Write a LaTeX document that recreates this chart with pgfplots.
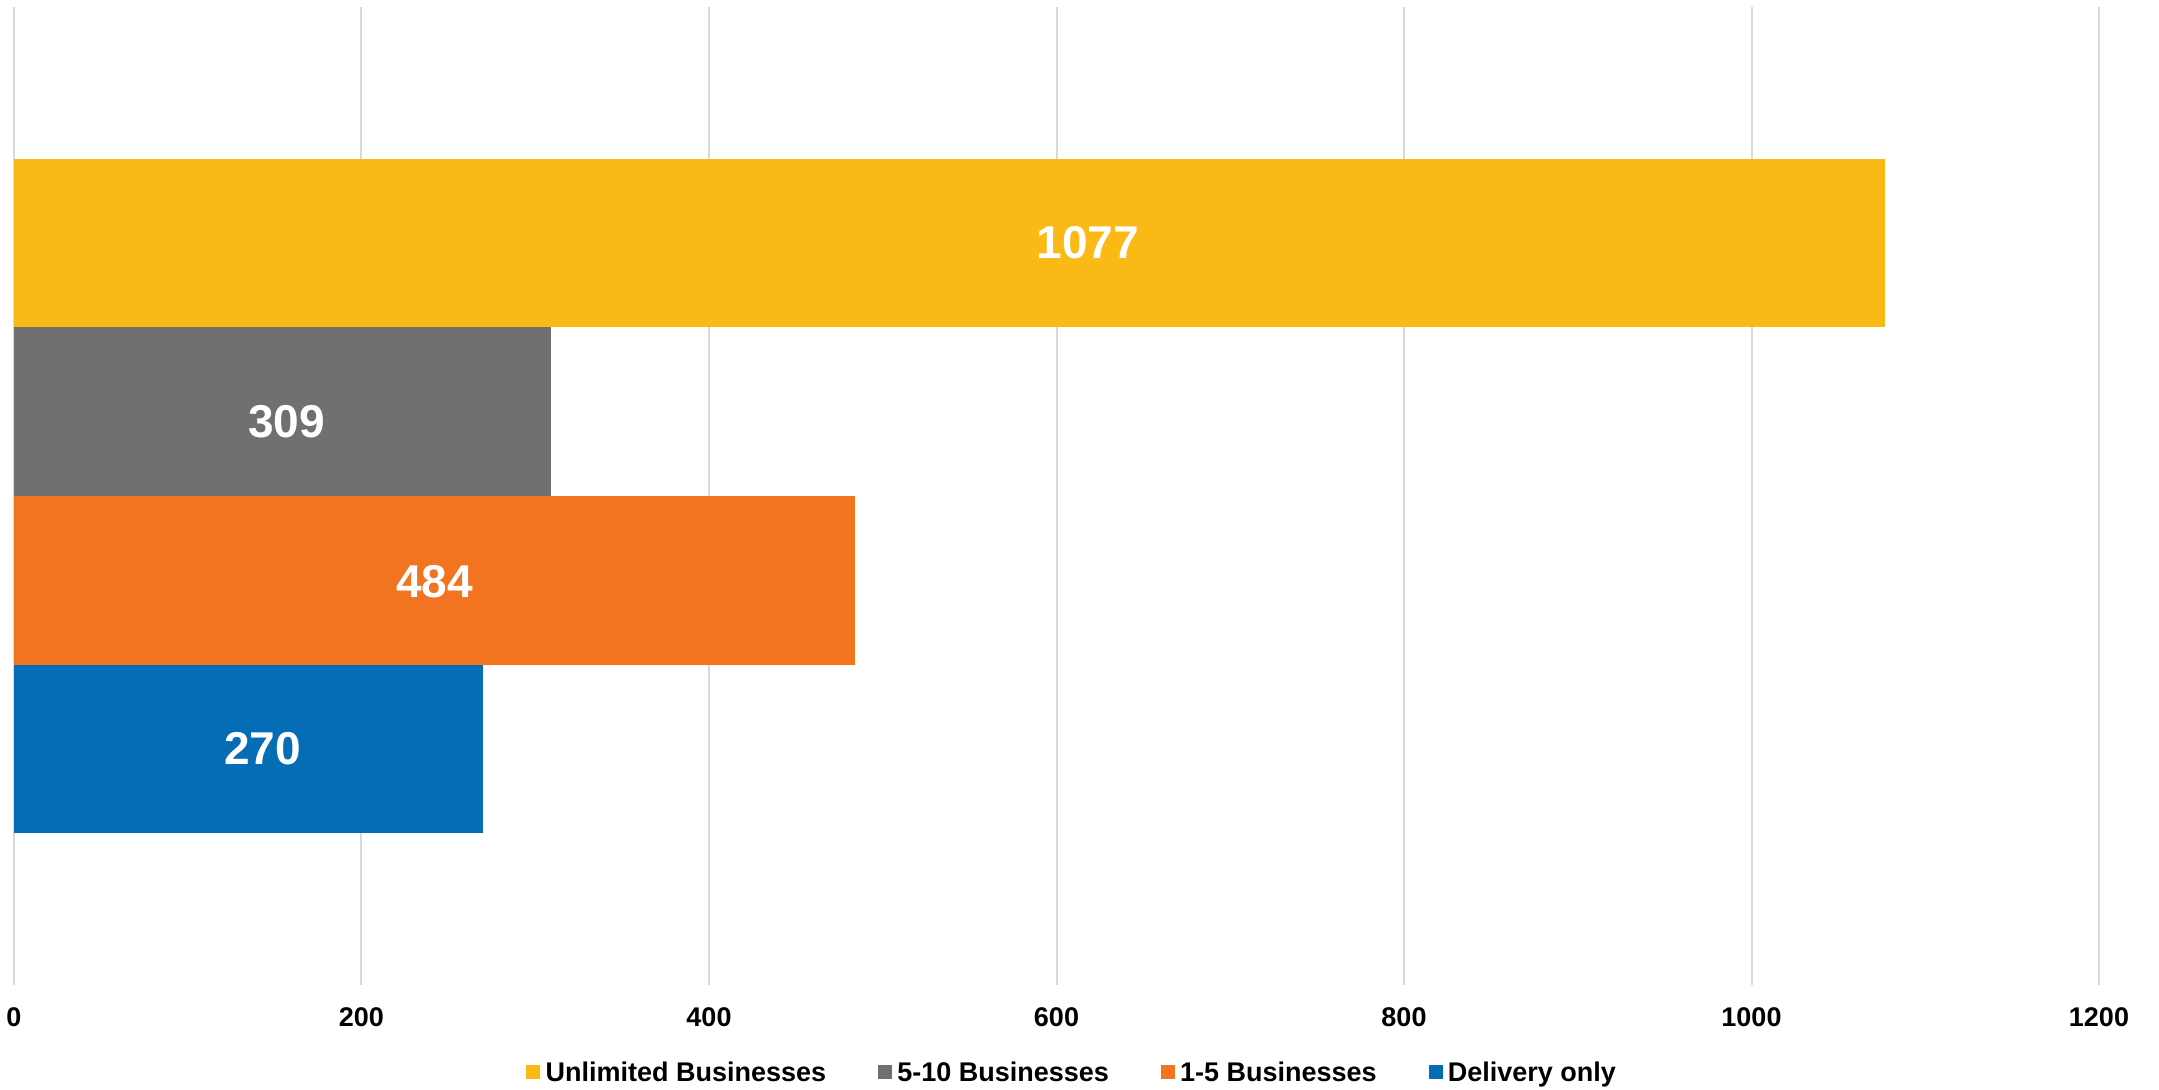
\documentclass[border=0pt]{standalone}
\usepackage{fontspec}
\setmainfont{Liberation Sans}
\usepackage{pgfplots}
\pgfplotsset{compat=1.18}
\definecolor{cYellow}{RGB}{251,185,21}
\definecolor{cGray}{RGB}{112,112,112}
\definecolor{cOrange}{RGB}{242,115,32}
\definecolor{cBlue}{RGB}{5,108,182}
\definecolor{cGrid}{RGB}{217,217,217}
\pgfplotsset{sq/.style={legend image code/.code={\fill[##1,draw=none] (0pt,-3.2pt) rectangle (7pt,3.8pt);}}}
\begin{document}
\begin{tikzpicture}
\useasboundingbox (-7pt,-52pt) rectangle (1072.5pt,492.5pt);
\begin{axis}[
  scale only axis,
  width=1042.5pt, height=489pt,
  xmin=0, xmax=1200, ymin=-0.398, ymax=5.398,
  xtick={0,200,...,1200},
  ytick=\empty,
  axis line style={draw=none},
  major tick length=0pt,
  xmajorgrids,
  grid style={cGrid, line width=1pt},
  /pgf/number format/assume math mode=true,
  /pgf/number format/1000 sep={},
  xticklabel style={font=\fontsize{13.5}{16}\selectfont\bfseries, yshift=-7.6pt},
  legend columns=4,
  legend style={draw=none, fill=none, at={(0.508,-0.09)}, anchor=center,
    font=\fontsize{13.5}{16}\selectfont\bfseries,
    /tikz/every even column/.append style={column sep=24pt},
    /tikz/every odd column/.append style={column sep=0.6pt},
    inner sep=0pt},
  legend cell align=left,
]
\addplot[xbar, bar width=1, bar shift=0pt, fill=cYellow, draw=none, sq] coordinates {(1077,4)};
\addlegendentry{Unlimited Businesses}
\addplot[xbar, bar width=1, bar shift=0pt, fill=cGray, draw=none, sq] coordinates {(309,3)};
\addlegendentry{5-10 Businesses}
\addplot[xbar, bar width=1, bar shift=0pt, fill=cOrange, draw=none, sq] coordinates {(484,2)};
\addlegendentry{1-5 Businesses}
\addplot[xbar, bar width=1, bar shift=0pt, fill=cBlue, draw=none, sq] coordinates {(270,1)};
\addlegendentry{Delivery only}
\addplot[draw=none, mark=none, nodes near coords, point meta=explicit symbolic,
  every node near coord/.append style={anchor=center, text=white, font=\fontsize{23}{26}\selectfont\bfseries}, forget plot]
  coordinates {(618,4) [1077] (157,2.94) [309] (242,1.99) [484] (143,1) [270]};
\end{axis}
\end{tikzpicture}
\end{document}
